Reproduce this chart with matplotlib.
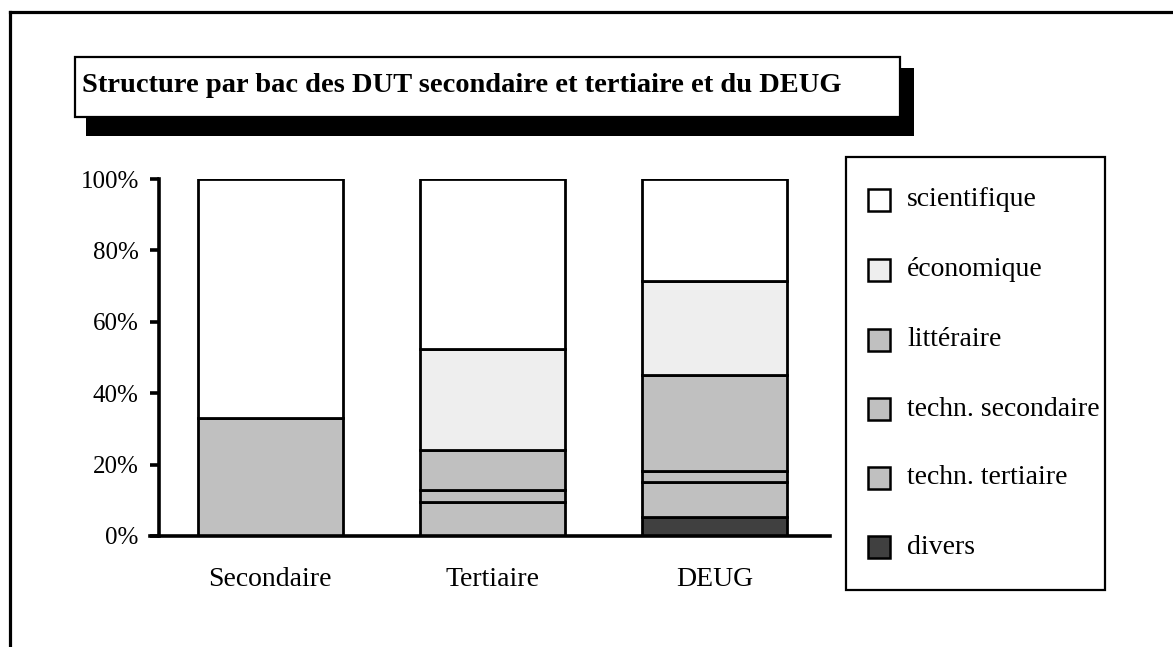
import matplotlib
matplotlib.use("Agg")
import matplotlib.pyplot as plt
from matplotlib.patches import Rectangle
from matplotlib.lines import Line2D

# data (percent), stacked from bottom to top
categories = ["Secondaire", "Tertiaire", "DEUG"]
series_names = ["divers", "techn. tertiaire", "techn. secondaire",
                "littéraire", "économique", "scientifique"]
divers = [0.0, 0.0, 5.2]
techn_tertiaire = [0.0, 9.6, 9.8]
techn_secondaire = [33.0, 3.3, 3.1]
litteraire = [0.0, 11.3, 27.1]
economique = [0.0, 28.3, 26.2]
scientifique = [67.0, 47.5, 28.6]
y_ticks = [0, 20, 40, 60, 80, 100]

series_values = [divers, techn_tertiaire, techn_secondaire,
                 litteraire, economique, scientifique]
colors = ["#404040", "#c0c0c0", "#c0c0c0", "#c0c0c0", "#eeeeee", "#ffffff"]

W, H = 1173, 647
FONT = "Liberation Serif"
plt.rcParams["font.family"] = [FONT, "DejaVu Serif"]

fig = plt.figure(figsize=(W / 100, H / 100), dpi=100)


def fx(x):
    return x / W


def fy(y):
    return 1 - y / H


# outer frame (top and left only, the rest is clipped in the original)
fig.add_artist(Line2D([fx(10), fx(W)], [fy(12), fy(12)], color="black", lw=2.3))
fig.add_artist(Line2D([fx(10), fx(10)], [fy(12), fy(H)], color="black", lw=2.3))

# title box with drop shadow
fig.add_artist(Rectangle((fx(86), fy(136)), fx(914 - 86), (136 - 68) / H,
                         facecolor="black", edgecolor="none"))
fig.add_artist(Rectangle((fx(75), fy(117)), fx(900 - 75), (117 - 57) / H,
                         facecolor="white", edgecolor="black", lw=1.6))
fig.text(fx(82), fy(86), "Structure par bac des DUT secondaire et tertiaire et du DEUG",
         fontsize=20.5, fontweight="bold", ha="left", va="center")

# plot area: left edge at 150 so the x axis line starts under the tick marks
ax_left, ax_right, ax_top, ax_bottom = 150, 830, 179, 536
ax = fig.add_axes([fx(ax_left), fy(ax_bottom), fx(ax_right - ax_left),
                   (ax_bottom - ax_top) / H])

for s in ["top", "right"]:
    ax.spines[s].set_visible(False)
ax.spines["left"].set_position(("axes", (159 - ax_left) / (ax_right - ax_left)))
ax.spines["left"].set_linewidth(2.6)
ax.spines["bottom"].set_linewidth(2.6)
ax.spines["left"].set_zorder(3)
ax.spines["bottom"].set_zorder(3)

x = list(range(len(categories)))
bottom = [0.0] * len(categories)
for name, vals, col in zip(series_names, series_values, colors):
    ax.bar(x, vals, width=0.653, bottom=bottom, color=col,
           edgecolor="black", linewidth=2.0, label=name, zorder=2)
    bottom = [b0 + v for b0, v in zip(bottom, vals)]

ax.set_ylim(0, 100)
ax.set_xlim(-0.5405, 2.518)
ax.set_yticks(y_ticks)
ax.set_yticklabels([f"{t}%" for t in y_ticks])
ax.set_xticks(x)
ax.set_xticklabels(categories)
ax.tick_params(axis="y", direction="out", length=6.5, width=2.6, pad=8, labelsize=18)
ax.tick_params(axis="x", length=0, pad=22, labelsize=20)
ax.patch.set_alpha(0)

# legend drawn as its own box, top entry first
leg_l, leg_t, leg_r, leg_b = 846, 157, 1105, 590
fig.add_artist(Rectangle((fx(leg_l), fy(leg_b)), fx(leg_r - leg_l), (leg_b - leg_t) / H,
                         facecolor="white", edgecolor="black", lw=1.6))
row_y = [200, 270, 340, 409, 478, 547]
for yy, name, col in zip(row_y, series_names[::-1], colors[::-1]):
    fig.add_artist(Rectangle((fx(868), fy(yy + 11)), fx(22), 22 / H,
                             facecolor=col, edgecolor="black", lw=1.8))
    fig.text(fx(907), fy(yy), name, fontsize=20, ha="left", va="center")

fig.savefig("out.png", dpi=100)
